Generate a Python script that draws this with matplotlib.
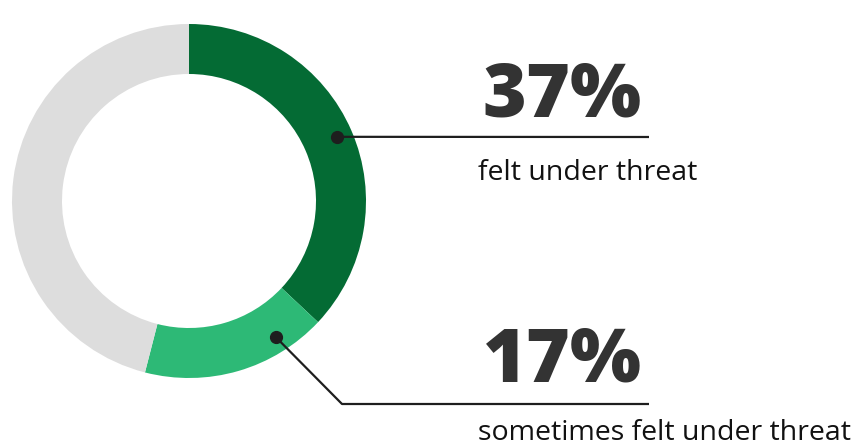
import matplotlib
matplotlib.use("Agg")
import matplotlib.pyplot as plt
import numpy as np

# shares of respondents
shares = [37, 17, 46]
colors = ['#046b34', '#2db976', '#dddddd']
pct_labels = ['37%', '17%']
captions = ['felt under threat', 'sometimes felt under threat']

W, H = 865, 444
fig = plt.figure(figsize=(W / 100, H / 100), dpi=100)
ax = fig.add_axes([0, 0, 1, 1])

cx, cy, R = 189, H - 201, 177
ring = 50 / 177

wedges, _ = ax.pie(shares, colors=colors, startangle=90, counterclock=False,
                   radius=R, center=(cx, cy),
                   wedgeprops=dict(width=R * ring, linewidth=0))

ax.set_xlim(0, W)
ax.set_ylim(0, H)
ax.set_aspect('equal')
ax.axis('off')

ink = '#1e1e1e'
text_col = '#333333'

# where along each wedge the leader line starts (0 = start, 1 = end)
anchor_frac = [0.5, 0.233]
line_y = [H - 137, H - 404]
bend_x = [None, 342]
line_end = 649
pct_y = [H - 116, H - 382]
cap_y = [H - 180, H - 440]

start = 0
for i in range(2):
    a = start + shares[i] * anchor_frac[i]
    start += shares[i]
    theta = np.deg2rad(90 - a / 100 * 360)
    px = cx + 0.913 * R * np.cos(theta)
    py = cy + 0.913 * R * np.sin(theta)
    if bend_x[i] is None:
        xs, ys = [px, line_end], [py, line_y[i]]
    else:
        xs, ys = [px, bend_x[i], line_end], [py, line_y[i], line_y[i]]
    ax.plot(xs, ys, color=ink, lw=1.6, solid_capstyle='butt')
    ax.plot(px, py, 'o', color=ink, ms=8.5)
    ax.text(562, pct_y[i], pct_labels[i], ha='center', va='baseline',
            fontsize=54, fontweight='heavy', family='Open Sans', color=text_col)
    ax.text(478, cap_y[i], captions[i], ha='left', va='baseline',
            fontsize=20.5, family='Open Sans', color='#111111')

fig.savefig('out.png', dpi=100)
